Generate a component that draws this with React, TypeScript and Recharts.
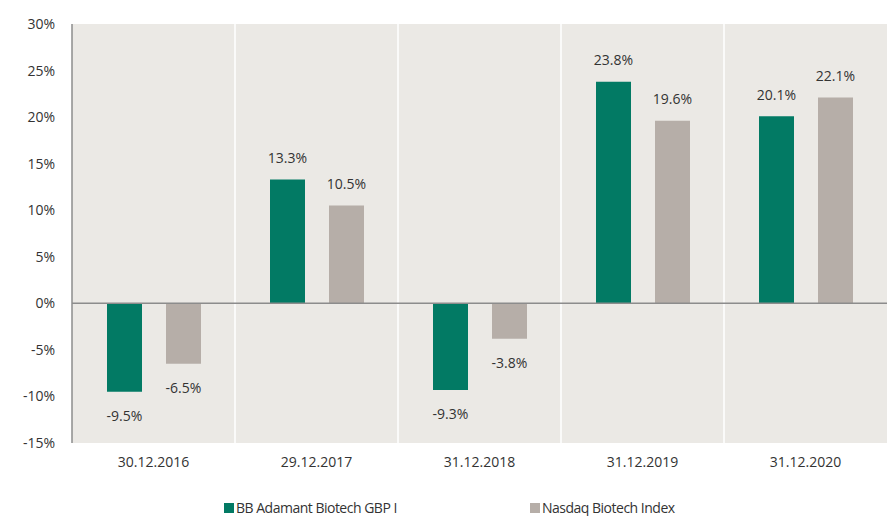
import React from 'react';
import { BarChart, Bar, XAxis, YAxis, CartesianGrid, ReferenceLine, LabelList, Legend } from 'recharts';

const categories = ['30.12.2016', '29.12.2017', '31.12.2018', '31.12.2019', '31.12.2020'];
const fundValues = [-9.5, 13.3, -9.3, 23.8, 20.1];
const indexValues = [-6.5, 10.5, -3.8, 19.6, 22.1];
const seriesNames = ['BB Adamant Biotech GBP I', 'Nasdaq Biotech Index'];
const seriesColors = ['#027a64', '#b6aea8'];
const yTicks = [-15, -10, -5, 0, 5, 10, 15, 20, 25, 30];
const dividers = [1, 2, 3, 4];

const data = categories.map((c, i) => ({ date: c, fund: fundValues[i], index: indexValues[i], pos: i + 0.5 }));

const FONT = '"Open Sans", "Noto Sans", sans-serif';
const TEXT = '#333333';

const renderLabel = (props: any) => {
  const x = Number(props.x), y = Number(props.y), w = Number(props.width), h = Number(props.height);
  const v = Number(props.value);
  const top = Math.min(y, y + h);
  const bottom = Math.max(y, y + h);
  const cy = v >= 0 ? top - 22 : bottom + 24;
  return (
    <text x={x + w / 2} y={cy} textAnchor="middle" dominantBaseline="central" fill={TEXT} fontSize={14} fontFamily={FONT}>
      {`${v.toFixed(1)}%`}
    </text>
  );
};

const legendLefts = [224, 530];

const renderLegend = () => (
  <div style={{ position: 'relative', width: 891, height: 40, fontFamily: FONT, fontSize: 14, color: TEXT, letterSpacing: '-0.5px' }}>
    {seriesNames.map((n, i) => (
      <div key={n} style={{ position: 'absolute', left: legendLefts[i], top: 22, display: 'flex', alignItems: 'center', whiteSpace: 'nowrap' }}>
        <span style={{ display: 'inline-block', width: 10, height: 10, background: seriesColors[i], marginRight: 2 }} />
        <span>{n}</span>
      </div>
    ))}
  </div>
);

export default function App() {
  return (
    <div style={{ position: 'absolute', left: 0, top: 0, width: 891, height: 516, background: '#fff' }}>
      <BarChart width={891} height={516} data={data} margin={{ top: 24, right: 4, left: 0, bottom: 0 }} barSize={35} barGap={24}>
        <CartesianGrid horizontal={false} vertical={false} fill="#ebe9e5" stroke="none" />
        <XAxis dataKey="date" axisLine={false} tickLine={false} tickSize={0} tickMargin={14} height={33}
          tick={{ fill: TEXT, fontSize: 14, fontFamily: FONT }} interval={0} />
        <XAxis xAxisId="grid" type="number" dataKey="pos" domain={[0, 5]} hide allowDataOverflow />
        <YAxis domain={[-15, 30]} ticks={yTicks} width={72} interval={0} tickLine={false} tickSize={0} tickMargin={17}
          axisLine={{ stroke: '#8c8c8c', strokeWidth: 1.5 }} tickFormatter={(v: number) => `${v}%`}
          tick={{ fill: TEXT, fontSize: 14, fontFamily: FONT }} />
        {dividers.map((d) => (
          <ReferenceLine key={d} xAxisId="grid" x={d} stroke="#ffffff" strokeWidth={1.5} />
        ))}
        <Bar dataKey="fund" name={seriesNames[0]} fill={seriesColors[0]} isAnimationActive={false}>
          <LabelList dataKey="fund" content={renderLabel} />
        </Bar>
        <Bar dataKey="index" name={seriesNames[1]} fill={seriesColors[1]} isAnimationActive={false}>
          <LabelList dataKey="index" content={renderLabel} />
        </Bar>
        <ReferenceLine y={0} stroke="#8c8c8c" strokeWidth={1.5} />
        <Legend verticalAlign="bottom" height={40} content={renderLegend} wrapperStyle={{ left: 0, width: 891 }} />
      </BarChart>
    </div>
  );
}
